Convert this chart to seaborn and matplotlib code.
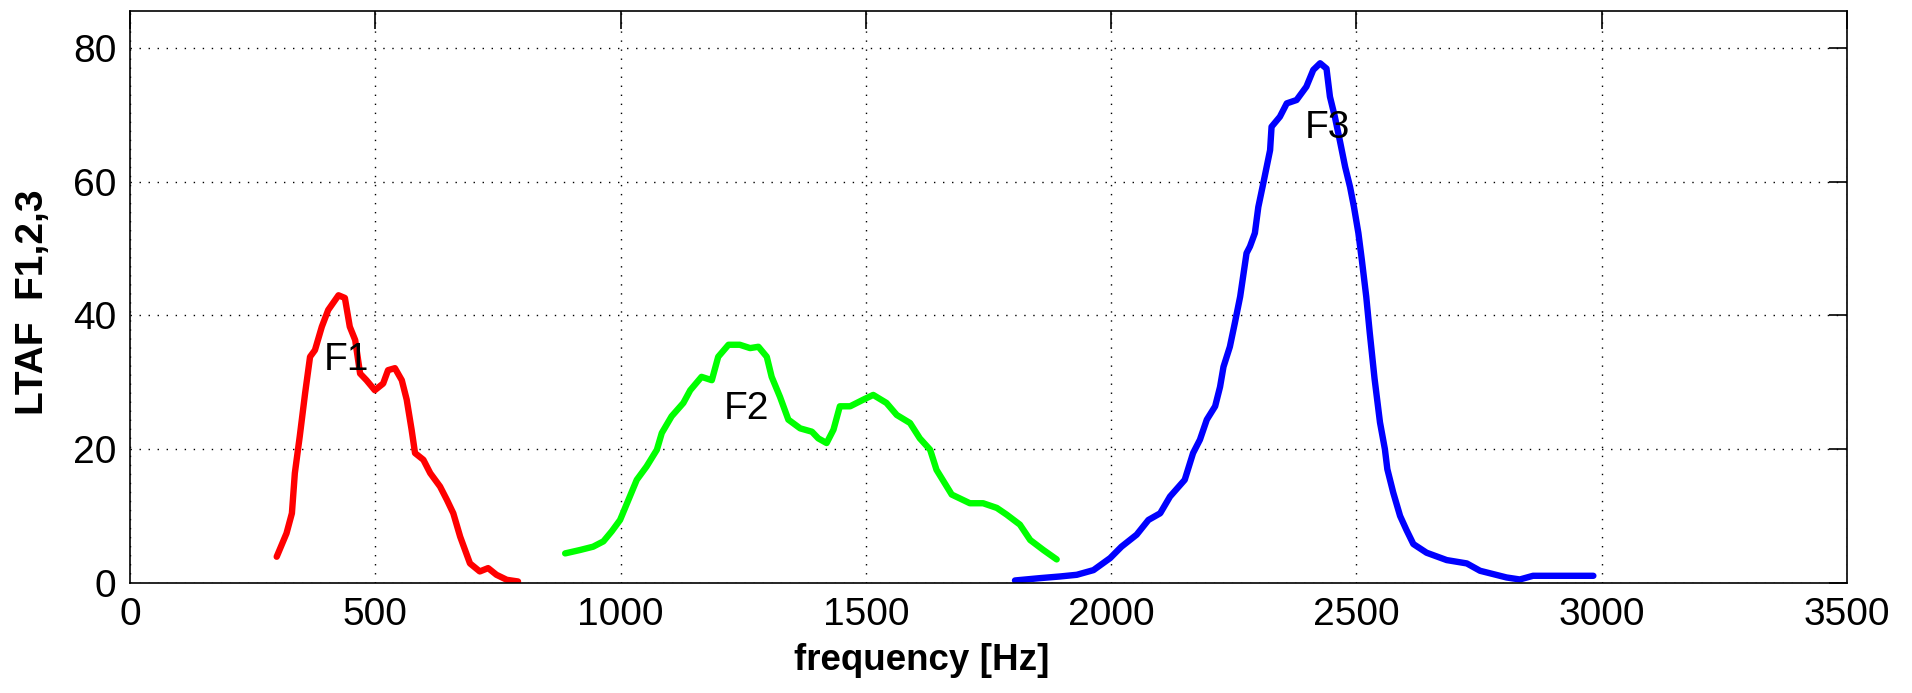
import matplotlib
matplotlib.use("Agg")
import matplotlib.pyplot as plt
import pandas as pd
import seaborn as sns

# long-term average formant distributions
red_hz = [299, 319, 330, 336, 346, 357, 367, 377, 391, 404, 425, 438, 448, 459,
          469, 482, 499, 516, 526, 540, 554, 564, 574, 581, 598, 612, 632, 646,
          659, 673, 693, 713, 730, 747, 768, 791]
red_ltaf = [3.9, 7.4, 10.4, 16.4, 21.9, 28.4, 33.8, 34.8, 38.3, 40.8, 43.0, 42.6,
            38.3, 36.3, 31.3, 30.3, 28.8, 29.8, 31.8, 32.1, 30.3, 27.4, 22.9, 19.4,
            18.4, 16.4, 14.4, 12.4, 10.4, 6.9, 2.9, 1.7, 2.2, 1.2, 0.45, 0.2]

green_hz = [887, 917, 944, 965, 982, 999, 1016, 1033, 1053, 1074, 1084, 1104,
            1128, 1142, 1165, 1186, 1199, 1220, 1243, 1264, 1281, 1298, 1308,
            1325, 1342, 1366, 1390, 1403, 1420, 1434, 1447, 1468, 1495, 1515,
            1542, 1563, 1590, 1610, 1631, 1644, 1675, 1712, 1739, 1767, 1787,
            1814, 1835, 1862, 1889]
green_ltaf = [4.4, 4.9, 5.4, 6.2, 7.7, 9.4, 12.4, 15.4, 17.4, 19.9, 22.4, 24.9,
              26.9, 28.8, 30.8, 30.3, 33.8, 35.6, 35.6, 35.1, 35.3, 33.8, 30.8,
              27.8, 24.4, 23.1, 22.6, 21.6, 20.9, 22.9, 26.4, 26.4, 27.4, 28.1,
              26.9, 25.1, 23.9, 21.6, 19.9, 16.9, 13.2, 11.9, 11.9, 11.2, 10.2,
              8.7, 6.4, 4.9, 3.5]

blue_hz = [1804, 1855, 1896, 1930, 1964, 1998, 2021, 2052, 2076, 2100, 2120, 2150,
           2167, 2181, 2195, 2212, 2222, 2229, 2242, 2252, 2263, 2276, 2283, 2293,
           2300, 2310, 2317, 2324, 2327, 2344, 2358, 2378, 2398, 2412, 2426, 2439,
           2446, 2456, 2466, 2477, 2487, 2495, 2504, 2511, 2520, 2527, 2537, 2548,
           2558, 2563, 2575, 2589, 2602, 2616, 2643, 2684, 2725, 2752, 2779, 2806,
           2833, 2860, 2922, 2983]
blue_ltaf = [0.35, 0.7, 0.95, 1.2, 1.9, 3.7, 5.4, 7.2, 9.4, 10.4, 12.9, 15.4,
             19.4, 21.4, 24.4, 26.4, 29.3, 32.3, 35.3, 38.8, 42.8, 49.3, 50.3, 52.3,
             56.2, 59.7, 62.2, 64.7, 68.2, 69.7, 71.7, 72.2, 74.2, 76.7, 77.7, 76.9,
             72.7, 69.7, 66.2, 62.2, 59.2, 56.2, 52.3, 48.3, 42.8, 37.5, 30.5, 24.0,
             20.0, 17.0, 13.5, 10.0, 7.9, 5.8, 4.5, 3.4, 2.9, 1.8, 1.3, 0.8,
             0.5, 1.05, 1.05, 1.05]

labels = ["F1", "F2", "F3"]
label_pos = [(395, 33.3), (1210, 26.0), (2395, 68.0)]
x_ticks = [0, 500, 1000, 1500, 2000, 2500, 3000, 3500]
y_ticks = [0, 20, 40, 60, 80]

sns.set_style("white")
plt.rcParams["font.family"] = ["Liberation Sans", "DejaVu Sans"]
plt.rcParams["text.color"] = "black"
plt.rcParams["axes.labelcolor"] = "black"

fig = plt.figure(figsize=(19.12, 6.93), dpi=100)
ax = fig.add_axes([0.068, 0.159, 0.898, 0.825])

curves = [(red_hz, red_ltaf, "#ff0000"),
          (green_hz, green_ltaf, "#00ff00"),
          (blue_hz, blue_ltaf, "#0000ff")]
for hz, ltaf, color in curves:
    df = pd.DataFrame({"hz": hz, "ltaf": ltaf})
    sns.lineplot(data=df, x="hz", y="ltaf", ax=ax, color=color, linewidth=4.6,
                 sort=False, estimator=None, solid_joinstyle="round")

for text, (x, y) in zip(labels, label_pos):
    ax.text(x, y, text, fontsize=28, ha="left", va="center", color="black")

ax.set_xlim(0, 3500)
ax.set_ylim(0, 85.5)
ax.set_xticks(x_ticks)
ax.set_yticks(y_ticks)
ax.grid(True, color="black", linestyle=(0, (1, 5.5)), linewidth=1.0)
ax.set_axisbelow(True)
ax.tick_params(direction="in", length=13, width=1.2, top=True, right=True,
               labelsize=28, pad=10, colors="black")
for spine in ax.spines.values():
    spine.set_color("black")
    spine.set_linewidth(1.2)

ax.set_xlabel("frequency [Hz]", fontsize=26.5, fontweight="bold", labelpad=4)
ax.xaxis.set_label_coords(0.461, -0.105)
ax.set_ylabel("LTAF  F1,2,3", fontsize=28, fontweight="bold", labelpad=12)
ax.yaxis.set_label_coords(-0.046, 0.49)

fig.savefig("out.png", dpi=100)
plt.close(fig)
